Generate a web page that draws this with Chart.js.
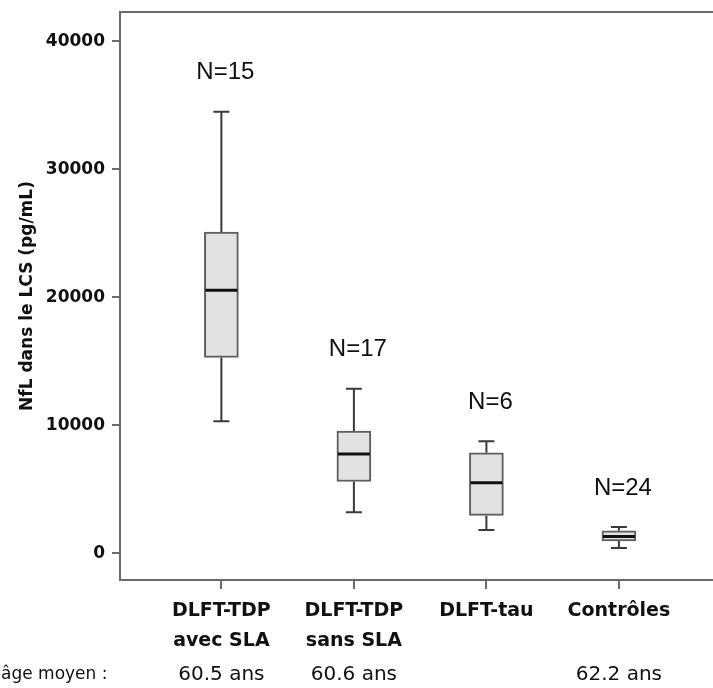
<!DOCTYPE html>
<html><head><meta charset="utf-8">
<script src="https://cdn.jsdelivr.net/npm/chart.js@4"></script>
<style>html,body{margin:0;padding:0;background:#fff}#wrap{width:713px;height:688px}</style>
</head><body><div id="wrap"><canvas id="c" width="713" height="688"></canvas></div>
<script>
// ---- data ----
const categories = [["DLFT-TDP","avec SLA"],["DLFT-TDP","sans SLA"],["DLFT-tau"],["Contrôles"]];
const positions = [1, 2, 3, 4];
const groupN = ["N=15", "N=17", "N=6", "N=24"];
const meanAge = ["60.5 ans", "60.6 ans", "", "62.2 ans"];
const ageRowLabel = "âge moyen :";
const whiskerLow = [10300, 3200, 1800, 400];
const q1 = [15300, 5600, 2950, 950];
const median = [20550, 7750, 5500, 1300];
const q3 = [25100, 9550, 7850, 1750];
const whiskerHigh = [34500, 12850, 8750, 2050];
const yTicks = [0, 10000, 20000, 30000, 40000];
const yTitle = "NfL dans le LCS (pg/mL)";

const AXIS = '#6a6a6a';
const boxPlugin = {
  id: 'boxPlot',
  beforeDatasetsDraw(chart) {
    const {ctx, scales: {x, y}} = chart;
    ctx.save();
    ctx.strokeStyle = '#3a3a3a';
    ctx.lineWidth = 2;
    positions.forEach((p, i) => {
      const px = x.getPixelForValue(p);
      ctx.beginPath();
      ctx.moveTo(px, y.getPixelForValue(whiskerHigh[i]));
      ctx.lineTo(px, y.getPixelForValue(q3[i]));
      ctx.moveTo(px, y.getPixelForValue(q1[i]));
      ctx.lineTo(px, y.getPixelForValue(whiskerLow[i]));
      ctx.moveTo(px - 8, y.getPixelForValue(whiskerHigh[i]));
      ctx.lineTo(px + 8, y.getPixelForValue(whiskerHigh[i]));
      ctx.moveTo(px - 8, y.getPixelForValue(whiskerLow[i]));
      ctx.lineTo(px + 8, y.getPixelForValue(whiskerLow[i]));
      ctx.stroke();
    });
    ctx.restore();
  },
  afterDatasetsDraw(chart) {
    const {ctx, scales: {x, y}} = chart;
    ctx.save();
    ctx.strokeStyle = '#111';
    ctx.lineWidth = 3;
    positions.forEach((p, i) => {
      const px = x.getPixelForValue(p);
      const py = y.getPixelForValue(median[i]);
      ctx.beginPath();
      ctx.moveTo(px - 16, py);
      ctx.lineTo(px + 16, py);
      ctx.stroke();
    });
    ctx.fillStyle = '#111';
    ctx.font = '24px "Liberation Sans", Arial, sans-serif';
    ctx.textAlign = 'center';
    ctx.textBaseline = 'middle';
    positions.forEach((p, i) => {
      const px = x.getPixelForValue(p) + 4;
      const py = y.getPixelForValue(whiskerHigh[i]) - 39;
      ctx.fillText(groupN[i], px, py);
    });
    ctx.restore();
  },
  afterDraw(chart) {
    const {ctx, chartArea, scales: {x}} = chart;
    ctx.save();
    ctx.strokeStyle = AXIS;
    ctx.lineWidth = 2;
    ctx.beginPath();
    ctx.moveTo(chartArea.left - 1, chartArea.top);
    ctx.lineTo(chart.width, chartArea.top);
    ctx.stroke();
    ctx.fillStyle = '#111';
    ctx.textBaseline = 'middle';
    ctx.textAlign = 'left';
    ctx.font = '17px "DejaVu Sans", sans-serif';
    ctx.fillText(ageRowLabel, 1, 675);
    ctx.textAlign = 'center';
    ctx.font = '20px "DejaVu Sans", sans-serif';
    positions.forEach((p, i) => {
      ctx.fillText(meanAge[i], x.getPixelForValue(p), 675);
    });
    ctx.restore();
  }
};

new Chart(document.getElementById('c'), {
  type: 'bar',
  data: {
    datasets: [{
      data: positions.map((p, i) => ({x: p, y: [q1[i], q3[i]]})),
      backgroundColor: '#e2e2e2',
      borderColor: '#5e5e5e',
      borderWidth: 2,
      borderSkipped: false,
      barThickness: 34
    }]
  },
  options: {
    responsive: false,
    devicePixelRatio: 1,
    animation: false,
    layout: {padding: {top: 12, left: 0, right: 0, bottom: 0}},
    plugins: {legend: {display: false}, tooltip: {enabled: false}},
    scales: {
      x: {
        type: 'linear',
        offset: false,
        min: 0.235,
        max: 4.71,
        afterBuildTicks(s) { s.ticks = positions.map(v => ({value: v})); },
        afterFit(s) { s.height = 108; s.paddingLeft = 0; s.paddingRight = 0; },
        grid: {offset: false, drawOnChartArea: false, tickLength: 9, color: AXIS, lineWidth: 2},
        border: {color: AXIS, width: 2},
        ticks: {
          autoSkip: false, maxRotation: 0, padding: 7,
          color: '#111',
          font: {family: '"DejaVu Sans", sans-serif', size: 19, weight: 'bold', lineHeight: 1.58},
          callback: (v) => { const i = positions.indexOf(v); return i >= 0 ? categories[i] : ''; }
        }
      },
      y: {
        type: 'linear',
        min: -2100,
        max: 42300,
        afterBuildTicks(s) { s.ticks = yTicks.map(v => ({value: v})); },
        afterFit(s) { s.width = 120; s.paddingTop = 0; s.paddingBottom = 0; },
        grid: {drawOnChartArea: false, tickLength: 8, color: AXIS, lineWidth: 2},
        border: {color: AXIS, width: 2},
        ticks: {
          padding: 7, color: '#111',
          font: {family: '"DejaVu Sans", sans-serif', size: 17, weight: 'bold'},
          callback: (v) => String(v)
        },
        title: {
          display: true, text: yTitle, color: '#111',
          font: {family: '"DejaVu Sans", sans-serif', size: 17, weight: 'bold', lineHeight: 1.2},
          padding: {top: 17, bottom: 0}
        }
      }
    }
  },
  plugins: [boxPlugin]
});
</script>
</body></html>
